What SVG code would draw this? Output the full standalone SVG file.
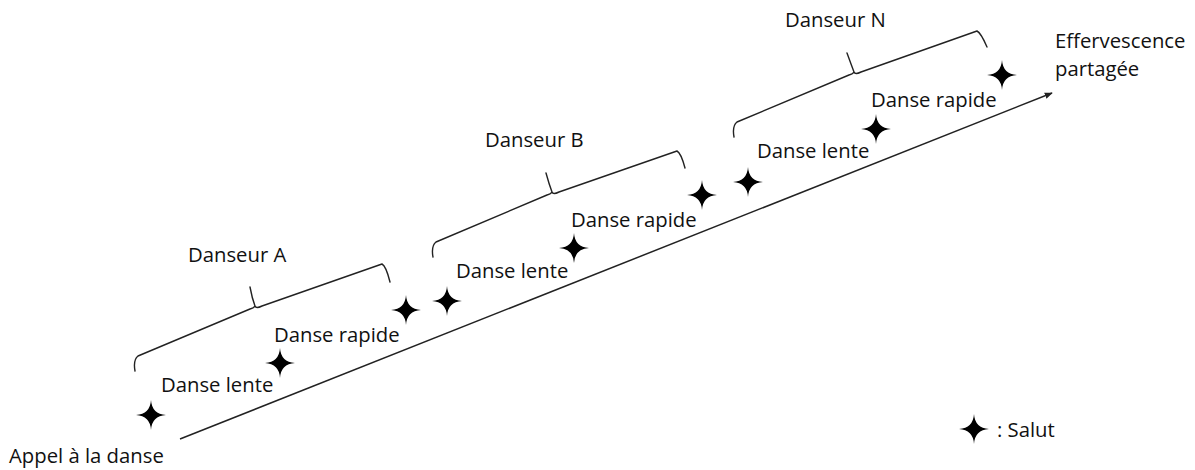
<svg xmlns="http://www.w3.org/2000/svg" width="1195" height="470" viewBox="0 0 1195 470">
<defs>
<style>
text{font-family:"Open Sans","Noto Sans","DejaVu Sans",sans-serif;font-size:20.3px;fill:#111}
.br{fill:none;stroke:#222;stroke-width:1.4;stroke-linejoin:round;stroke-linecap:round}
.ax{fill:none;stroke:#222;stroke-width:1.5}
.st{fill:#000}
</style>
<path id="star" d="M0,-15 Q0.9,-0.9 15,0 Q0.9,0.9 0,15 Q-0.9,0.9 -15,0 Q-0.9,-0.9 0,-15 Z"/>
<marker id="ah" viewBox="0 0 10 10" refX="9" refY="5" markerWidth="8" markerHeight="8" orient="auto" markerUnits="userSpaceOnUse">
<path d="M0,1 L10,5 L0,9 Z" fill="#222"/>
</marker>
</defs>
<g id="connectors">
<line class="ax" x1="180" y1="439" x2="1052" y2="93" marker-end="url(#ah)"/>
</g>
<g id="brace-a">
<path class="br" d="M135,371 Q133,360 138,356 L250,309 Q254,308 255,306 Q252,298 250,287 M255,306 Q256,309 262,306 L382,264 Q386,266 390,282"/>
<text x="188" y="262">Danseur A</text>
</g>
<g id="brace-b">
<path class="br" d="M433,257 Q431,246 436,242 L547,195 Q551,194 552,192 Q549,184 546,173 M552,192 Q553,195 559,192 L677,151 Q681,153 685,168"/>
<text x="485" y="147">Danseur B</text>
</g>
<g id="brace-n">
<path class="br" d="M734,137 Q732,126 737,122 L849,75 Q853,74 854,72 Q851,64 847,53 M854,72 Q855,75 861,72 L977,31 Q981,33 987,47"/>
<text x="785" y="27">Danseur N</text>
</g>
<g id="start">
<use href="#star" x="151" y="415" class="st"/>
<text x="9" y="463">Appel à la danse</text>
</g>
<g id="a-lente">
<use href="#star" x="280" y="363" class="st"/>
<text x="161" y="392">Danse lente</text>
</g>
<g id="a-rapide">
<use href="#star" x="406" y="310" class="st"/>
<text x="274" y="342">Danse rapide</text>
</g>
<g id="b-lente">
<use href="#star" x="447" y="301" class="st"/>
<text x="456" y="278">Danse lente</text>
</g>
<g id="b-rapide">
<use href="#star" x="574" y="248" class="st"/>
<text x="571" y="227">Danse rapide</text>
</g>
<g id="n-lente">
<use href="#star" x="702" y="195" class="st"/>
<use href="#star" x="748" y="182" class="st"/>
<text x="757" y="158">Danse lente</text>
</g>
<g id="n-rapide">
<use href="#star" x="876" y="129" class="st"/>
<text x="871" y="107">Danse rapide</text>
</g>
<g id="end">
<use href="#star" x="1002" y="75" class="st"/>
<text x="1055" y="48">Effervescence</text>
<text x="1055" y="76">partagée</text>
</g>
<g id="legend">
<use href="#star" x="974" y="429" class="st"/>
<text x="997" y="437">: Salut</text>
</g>
</svg>
